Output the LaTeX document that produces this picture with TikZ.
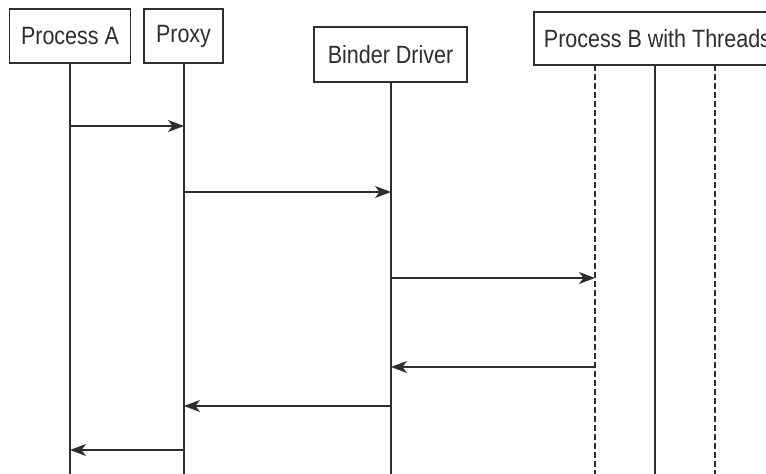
\documentclass[tikz,border=0pt]{standalone}
\usepackage{fontspec}
\setmainfont{Liberation Sans}[FakeStretch=0.86]
\usetikzlibrary{arrows.meta}
\definecolor{ink}{HTML}{2E2E2E}
\tikzset{
  actor/.style={draw=ink, line width=1.5pt, fill=white, text=ink, font=\fontsize{25}{29}\selectfont, inner sep=0pt, minimum height=54pt},
  life/.style={draw=ink, line width=1.5pt},
  thread/.style={draw=ink, line width=1.5pt, dash pattern=on 6pt off 3pt},
  msg/.style={draw=ink, line width=1.5pt, -{Stealth[length=16pt,width=12pt,inset=4.5pt]}}
}
\begin{document}
\begin{tikzpicture}[x=1pt,y=-1pt]
\clip (0,0) rectangle (766,474);
\fill[white] (0,0) rectangle (766,474);
% actor boxes
\node[actor, minimum width=121pt] (pa) at (70,36) {Process A};
\node[actor, minimum width=79pt] (px) at (183.5,36) {Proxy};
\node[actor, minimum width=153pt, minimum height=55pt] (bd) at (390.5,54.5) {Binder Driver};
\node[actor, minimum width=247pt, minimum height=53pt] (pb) at (657.5,38.5) {Process B with Threads};
% lifeline ends
\coordinate (paE) at (70,480);
\coordinate (pxE) at (184,480);
\coordinate (bdE) at (391,480);
\coordinate (t1S) at (595,65);
\coordinate (t1E) at (595,480);
\coordinate (t2S) at (655,65);
\coordinate (t2E) at (655,480);
\coordinate (t3S) at (715,65);
\coordinate (t3E) at (715,480);
\draw[life] (pa.south -| paE) -- (paE);
\draw[life] (px.south -| pxE) -- (pxE);
\draw[life] (bd.south -| bdE) -- (bdE);
\draw[thread] (t1S) -- (t1E);
\draw[life] (t2S) -- (t2E);
\draw[thread] (t3S) -- (t3E);
% message points
\coordinate (m1a) at (70,126);  \coordinate (m1b) at (184,126);
\coordinate (m2a) at (184,192); \coordinate (m2b) at (391,192);
\coordinate (m3a) at (391,278); \coordinate (m3b) at (595,278);
\coordinate (m4a) at (595,367); \coordinate (m4b) at (391,367);
\coordinate (m5a) at (391,406); \coordinate (m5b) at (184,406);
\coordinate (m6a) at (184,450); \coordinate (m6b) at (70,450);
\draw[msg] (m1a) -- (m1b);
\draw[msg] (m2a) -- (m2b);
\draw[msg] (m3a) -- (m3b);
\draw[msg] (m4a) -- (m4b);
\draw[msg] (m5a) -- (m5b);
\draw[msg] (m6a) -- (m6b);
\end{tikzpicture}
\end{document}
